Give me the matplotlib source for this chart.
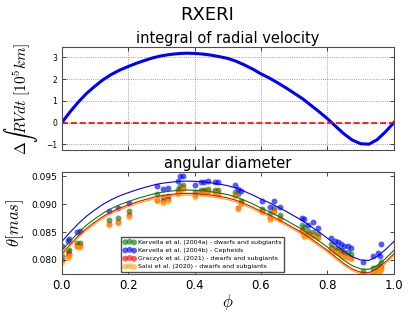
import matplotlib
matplotlib.use("Agg")
import matplotlib.pyplot as plt

plt.rcParams["mathtext.fontset"] = "cm"

# integral of radial velocity (10^5 km) against phase
fase_rv = [0.0, 0.025, 0.05, 0.075, 0.1, 0.125, 0.15, 0.175, 0.2, 0.225, 0.25, 0.275, 0.3,
           0.325, 0.35, 0.375, 0.4, 0.425, 0.45, 0.475, 0.5, 0.525, 0.55, 0.575, 0.6, 0.625,
           0.65, 0.675, 0.7, 0.725, 0.75, 0.775, 0.8, 0.825, 0.85, 0.875, 0.9, 0.925, 0.95,
           0.975, 1.0]
int_rv = [0.0, 0.50, 0.95, 1.35, 1.68, 1.98, 2.22, 2.42, 2.58, 2.73, 2.86, 2.98, 3.07,
          3.13, 3.17, 3.19, 3.18, 3.15, 3.10, 3.03, 2.95, 2.82, 2.65, 2.46, 2.24, 2.05,
          1.83, 1.60, 1.35, 1.10, 0.80, 0.50, 0.18, -0.17, -0.52, -0.80, -0.97, -0.99, -0.78,
          -0.42, 0.0]

# fitted angular diameter curves, in units of 1e-5 mas
ajuste_kerv_a = [8170, 8340, 8493, 8629, 8741, 8843, 8925, 8993, 9047, 9098, 9142, 9183, 9214,
                 9234, 9248, 9255, 9251, 9241, 9224, 9200, 9173, 9129, 9071, 9006, 8932, 8867,
                 8792, 8714, 8629, 8544, 8442, 8340, 8231, 8112, 7993, 7898, 7840, 7833, 7905,
                 8027, 8170]
ajuste_kerv_b = [8330, 8500, 8653, 8789, 8901, 9003, 9085, 9153, 9207, 9258, 9302, 9343, 9374,
                 9394, 9408, 9415, 9411, 9401, 9384, 9360, 9333, 9289, 9231, 9166, 9092, 9027,
                 8952, 8874, 8789, 8704, 8602, 8500, 8391, 8272, 8153, 8058, 8000, 7993, 8065,
                 8187, 8330]
ajuste_grac = [8110, 8280, 8433, 8569, 8681, 8783, 8865, 8933, 8987, 9038, 9082, 9123, 9154,
               9174, 9188, 9195, 9191, 9181, 9164, 9140, 9113, 9069, 9011, 8946, 8872, 8807,
               8732, 8654, 8569, 8484, 8382, 8280, 8171, 8052, 7933, 7838, 7780, 7773, 7845,
               7967, 8110]
ajuste_salsi = [8080, 8250, 8403, 8539, 8651, 8753, 8835, 8903, 8957, 9008, 9052, 9093, 9124,
                9144, 9158, 9165, 9161, 9151, 9134, 9110, 9083, 9039, 8981, 8916, 8842, 8777,
                8702, 8624, 8539, 8454, 8352, 8250, 8141, 8022, 7903, 7808, 7750, 7743, 7815,
                7937, 8080]

# observed phases and angular diameters (mas)
fase_obs = [0.002, 0.018, 0.022, 0.046, 0.055,
            0.142, 0.170, 0.202,
            0.288, 0.305, 0.320,
            0.350, 0.357, 0.365,
            0.400, 0.418, 0.428, 0.440, 0.462, 0.470,
            0.522, 0.530, 0.540,
            0.602, 0.628, 0.640, 0.656,
            0.724, 0.728, 0.742, 0.756, 0.771,
            0.812, 0.822, 0.831, 0.841, 0.851, 0.861, 0.871,
            0.906,
            0.936, 0.951, 0.958, 0.962]
theta_kerv_a = [.0808, .0816, .0818, .0830, .0831,
                .0871, .0876, .0887,
                .0918, .0913, .0914,
                .0928, .0932, .0935,
                .0922, .0926, .0925, .0927, .0926, .0925,
                .0922, .0918, .0905,
                .0891, .0884, .0893, .0881,
                .0863, .0860, .0852, .0851, .0846,
                .0828, .0822, .0820, .0818, .0815, .0814, .0811,
                .0781,
                .0785, .0788, .0790, .0797]
theta_kerv_b = [.0826, .0834, .0838, .0851, .0852,
                .0888, .0893, .0903,
                .0932, .0928, .0930,
                .0942, .0950, .0951,
                .0934, .0940, .0940, .0941, .0940, .0940,
                .0935, .0928, .0923,
                .0906, .0895, .0906, .0895,
                .0876, .0873, .0862, .0868, .0857,
                .0839, .0834, .0832, .0829, .0826, .0826, .0822,
                .0797,
                .0807, .0812, .0808, .0828]
theta_grac = [.0800, .0807, .0811, .0826, .0826,
              .0864, .0868, .0880,
              .0908, .0906, .0909,
              .0921, .0925, .0930,
              .0916, .0922, .0923, .0924, .0922, .0921,
              .0917, .0894, .0902,
              .0888, .0875, .0888, .0876,
              .0854, .0845, .0847, .0845, .0842,
              .0821, .0817, .0815, .0811, .0808, .0806, .0804,
              .0774,
              .0779, .0780, .0782, .0787]
theta_salsi = [.0797, .0804, .0808, .0824, .0823,
               .0862, .0866, .0878,
               .0905, .0903, .0906,
               .0918, .0922, .0928,
               .0913, .0920, .0921, .0922, .0920, .0918,
               .0915, .0891, .0900,
               .0886, .0872, .0886, .0874,
               .0851, .0841, .0845, .0843, .0840,
               .0818, .0815, .0813, .0808, .0806, .0804, .0802,
               .0772,
               .0777, .0777, .0780, .0784]

etiquetas = ["Kervella et al. (2004a) - dwarfs and subgiants",
             "Kervella et al. (2004b) - Cepheids",
             "Graczyk et al. (2021) - dwarfs and subgiants",
             "Salsi et al. (2020) - dwarfs and subgiants"]
colores = ["g", "b", "r", "orange"]

fig = plt.figure(figsize=(4.15, 3.12), dpi=100)
fig.text(0.5, 0.952, "RXERI", ha="center", va="center", fontsize=13)

# panel superior
ax1 = fig.add_axes([0.149, 0.519, 0.8, 0.33])
ax1.plot(fase_rv, int_rv, color="b", lw=2.2)
ax1.axhline(0, color="r", ls="--", lw=1.2)
ax1.set_xlim(0, 1)
ax1.set_ylim(-1.26, 3.47)
ax1.set_yticks([-1, 0, 1, 2, 3])
ax1.set_xticks([0, 0.2, 0.4, 0.6, 0.8, 1.0])
ax1.tick_params(labelbottom=False, labelsize=5.5, direction="in", top=True, right=True,
                length=3, width=0.5)
ax1.grid(True, color="gray", ls=":", lw=0.6)
ax1.set_title("integral of radial velocity", fontsize=10.5, pad=3)
ax1.set_ylabel(r"$\Delta \int RVdt\ [10^5 km]$", fontsize=11)
for s in ax1.spines.values():
    s.set_color("0.3")
    s.set_linewidth(0.8)

# panel inferior
ax2 = fig.add_axes([0.149, 0.122, 0.8, 0.327])
datos = [theta_kerv_a, theta_kerv_b, theta_grac, theta_salsi]
ajustes = [ajuste_kerv_a, ajuste_kerv_b, ajuste_grac, ajuste_salsi]
for theta, ajuste, c, et in zip(datos, ajustes, colores, etiquetas):
    ax2.scatter(fase_obs, theta, color=c, alpha=0.65, s=18, lw=0, label=et)
    ax2.plot(fase_rv, [a * 1e-5 for a in ajuste], color=c, lw=0.8)
ax2.set_xlim(0, 1)
ax2.set_ylim(0.0775, 0.0958)
ax2.set_yticks([0.080, 0.085, 0.090, 0.095])
ax2.set_yticklabels(["0.080", "0.085", "0.090", "0.095"])
ax2.tick_params(axis="y", labelsize=6.5)
ax2.tick_params(axis="x", labelsize=8.5)
ax2.tick_params(direction="in", top=True, right=True, length=3, width=0.5)
ax2.set_title("angular diameter", fontsize=10.5, pad=3)
ax2.set_ylabel(r"$\theta [mas]$", fontsize=12)
ax2.set_xlabel(r"$\phi$", fontsize=12, labelpad=0)
for s in ax2.spines.values():
    s.set_color("0.3")
    s.set_linewidth(0.8)
ax2.legend(loc="lower left", bbox_to_anchor=(0.178, 0.02), fontsize=4.5, scatterpoints=3,
           borderaxespad=0, fancybox=False, edgecolor="0.3", framealpha=1,
           handletextpad=0.3, labelspacing=0.45, borderpad=0.4)

plt.savefig("out.png", dpi=100)
